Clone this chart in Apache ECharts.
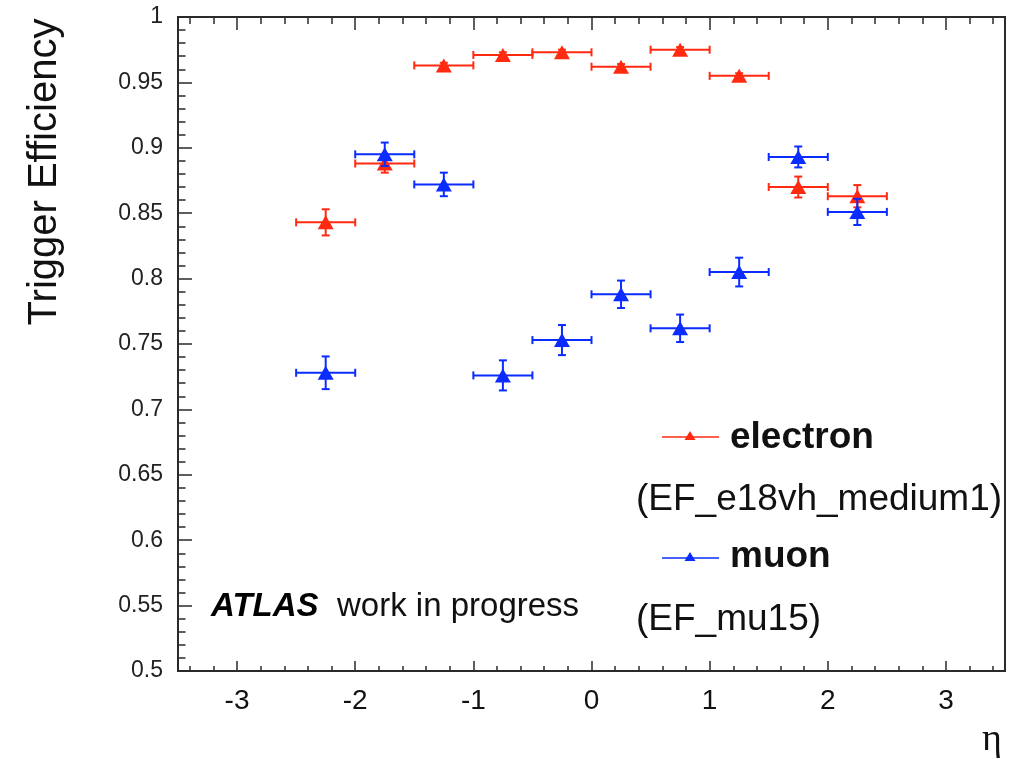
<!DOCTYPE html>
<html>
<head>
<meta charset="utf-8">
<script src="https://cdn.jsdelivr.net/npm/echarts@6/dist/echarts.min.js"></script>
<style>
html,body{margin:0;padding:0;background:#fff;}
#chart{width:1023px;height:759px;}
</style>
</head>
<body>
<div id="chart"></div>
<script>
// ---- data ----
const etaBins = [-2.25, -1.75, -1.25, -0.75, -0.25, 0.25, 0.75, 1.25, 1.75, 2.25];
const etaHalfWidth = [0.25, 0.25, 0.25, 0.25, 0.25, 0.25, 0.25, 0.25, 0.25, 0.25];
const electronEff = [0.843, 0.888, 0.963, 0.971, 0.973, 0.962, 0.975, 0.955, 0.870, 0.863];
const electronErr = [0.010, 0.007, 0.002, 0.002, 0.002, 0.002, 0.002, 0.002, 0.008, 0.0085];
const muonEff = [0.728, 0.895, 0.872, 0.726, 0.753, 0.788, 0.762, 0.805, 0.893, 0.851];
const muonErr = [0.0125, 0.009, 0.009, 0.0115, 0.0115, 0.0105, 0.0105, 0.011, 0.008, 0.010];
const xMajorTicks = [-3, -2, -1, 0, 1, 2, 3];
const xMinorTicks = [-3.4, -3.2, -2.8, -2.6, -2.4, -2.2, -1.8, -1.6, -1.4, -1.2, -0.8, -0.6, -0.4, -0.2,
                     0.2, 0.4, 0.6, 0.8, 1.2, 1.4, 1.6, 1.8, 2.2, 2.4, 2.6, 2.8, 3.2, 3.4];

const RED = '#ff2a10';
const BLUE = '#0a2cff';
const FRAME = '#2a2a2a';

function errData(eff, err) {
  return etaBins.map((x, i) => [x, eff[i], etaHalfWidth[i], err[i]]);
}

function renderErr(params, api) {
  const x = api.value(0), y = api.value(1), xe = api.value(2), ye = api.value(3);
  const l = api.coord([x - xe, y]);
  const r = api.coord([x + xe, y]);
  const t = api.coord([x, y + ye]);
  const b = api.coord([x, y - ye]);
  const color = api.visual('color');
  const st = {stroke: color, lineWidth: 2, fill: null};
  const cap = 4;
  return {
    type: 'group',
    children: [
      {type: 'line', shape: {x1: l[0], y1: l[1], x2: r[0], y2: r[1]}, style: st},
      {type: 'line', shape: {x1: l[0], y1: l[1] - cap, x2: l[0], y2: l[1] + cap}, style: st},
      {type: 'line', shape: {x1: r[0], y1: r[1] - cap, x2: r[0], y2: r[1] + cap}, style: st},
      {type: 'line', shape: {x1: t[0], y1: t[1], x2: b[0], y2: b[1]}, style: st},
      {type: 'line', shape: {x1: t[0] - cap, y1: t[1], x2: t[0] + cap, y2: t[1]}, style: st},
      {type: 'line', shape: {x1: b[0] - cap, y1: b[1], x2: b[0] + cap, y2: b[1]}, style: st}
    ]
  };
}

const FONT = '"Liberation Sans", Arial, Helvetica, sans-serif';

const chart = echarts.init(document.getElementById('chart'), null, {renderer: 'canvas'});

const baseX = {
  type: 'value', min: -3.5, max: 3.5,
  splitLine: {show: false},
  axisLine: {show: false, onZero: false}
};

chart.setOption({
  animation: false,
  backgroundColor: '#fff',
  grid: {left: 178, right: 18, top: 17, bottom: 88, show: true, borderColor: FRAME, borderWidth: 2, backgroundColor: 'transparent'},
  xAxis: [
    Object.assign({}, baseX, {
      position: 'bottom', interval: 0.5,
      axisTick: {show: false},
      axisLabel: {show: true, margin: 16, fontSize: 28, color: '#111', fontFamily: FONT,
        formatter: function (v) { return xMajorTicks.indexOf(v) >= 0 ? String(v) : ''; }}
    }),
    Object.assign({}, baseX, {
      position: 'bottom',
      axisTick: {show: true, inside: true, length: 10, lineStyle: {color: FRAME, width: 1.5}, customValues: xMajorTicks},
      axisLabel: {show: false}
    }),
    Object.assign({}, baseX, {
      position: 'bottom',
      axisTick: {show: true, inside: true, length: 5, lineStyle: {color: FRAME, width: 1.5}, customValues: xMinorTicks},
      axisLabel: {show: false}
    }),
    Object.assign({}, baseX, {
      position: 'top',
      axisTick: {show: true, inside: true, length: 13, lineStyle: {color: FRAME, width: 1.5}, customValues: xMajorTicks},
      axisLabel: {show: false}
    }),
    Object.assign({}, baseX, {
      position: 'top',
      axisTick: {show: true, inside: true, length: 7, lineStyle: {color: FRAME, width: 1.5}, customValues: xMinorTicks},
      axisLabel: {show: false}
    })
  ],
  yAxis: [{
    type: 'value', min: 0.5, max: 1, interval: 0.05, position: 'left',
    splitLine: {show: false},
    axisLine: {show: false, onZero: false},
    axisTick: {show: true, inside: true, length: 14, lineStyle: {color: FRAME, width: 1.5}},
    minorTick: {show: true, splitNumber: 5, length: 7.5, lineStyle: {color: FRAME, width: 1.5}},
    axisLabel: {margin: 15, fontSize: 23, color: '#222', fontFamily: FONT}
  }],
  series: [
    {
      name: 'electron err', type: 'custom', renderItem: renderErr,
      itemStyle: {color: RED}, encode: {x: 0, y: 1},
      data: errData(electronEff, electronErr), z: 2
    },
    {
      name: 'electron', type: 'scatter', symbol: 'triangle', symbolSize: [16, 14],
      itemStyle: {color: RED, opacity: 1},
      data: etaBins.map((x, i) => [x, electronEff[i]]), z: 3
    },
    {
      name: 'muon err', type: 'custom', renderItem: renderErr,
      itemStyle: {color: BLUE}, encode: {x: 0, y: 1},
      data: errData(muonEff, muonErr), z: 4
    },
    {
      name: 'muon', type: 'scatter', symbol: 'triangle', symbolSize: [16, 14],
      itemStyle: {color: BLUE, opacity: 1},
      data: etaBins.map((x, i) => [x, muonEff[i]]), z: 5
    }
  ],
  graphic: [
    // y axis title
    {type: 'text', x: 45, y: 172, rotation: Math.PI / 2,
      style: {text: 'Trigger Efficiency', font: '40px ' + FONT, fill: '#111', align: 'center', verticalAlign: 'middle'}},
    // x axis title
    {type: 'text', x: 992, y: 740,
      style: {text: 'η', font: '38px "Liberation Serif", "DejaVu Serif", serif', fill: '#111', align: 'center', verticalAlign: 'middle'}},
    // ATLAS label
    {type: 'text', x: 211, y: 607,
      style: {text: 'ATLAS', font: 'italic bold 33px ' + FONT, fill: '#000', align: 'left', verticalAlign: 'middle'}},
    {type: 'text', x: 337, y: 607,
      style: {text: 'work in progress', font: '33px ' + FONT, fill: '#111', align: 'left', verticalAlign: 'middle'}},
    // legend: electron
    {type: 'line', shape: {x1: 662, y1: 437, x2: 719, y2: 437}, style: {stroke: RED, lineWidth: 1.5}},
    {type: 'polygon', shape: {points: [[690, 431], [684.5, 440], [695.5, 440]]}, style: {fill: RED}},
    {type: 'text', x: 730, y: 438,
      style: {text: 'electron', font: 'bold 37px ' + FONT, fill: '#111', align: 'left', verticalAlign: 'middle'}},
    {type: 'text', x: 636, y: 500,
      style: {text: '(EF_e18vh_medium1)', font: '37px ' + FONT, fill: '#111', align: 'left', verticalAlign: 'middle'}},
    // legend: muon
    {type: 'line', shape: {x1: 662, y1: 558, x2: 719, y2: 558}, style: {stroke: BLUE, lineWidth: 1.5}},
    {type: 'polygon', shape: {points: [[690, 552], [684.5, 561], [695.5, 561]]}, style: {fill: BLUE}},
    {type: 'text', x: 730, y: 557,
      style: {text: 'muon', font: 'bold 37px ' + FONT, fill: '#111', align: 'left', verticalAlign: 'middle'}},
    {type: 'text', x: 636, y: 620,
      style: {text: '(EF_mu15)', font: '37px ' + FONT, fill: '#111', align: 'left', verticalAlign: 'middle'}}
  ]
});
</script>
</body>
</html>
